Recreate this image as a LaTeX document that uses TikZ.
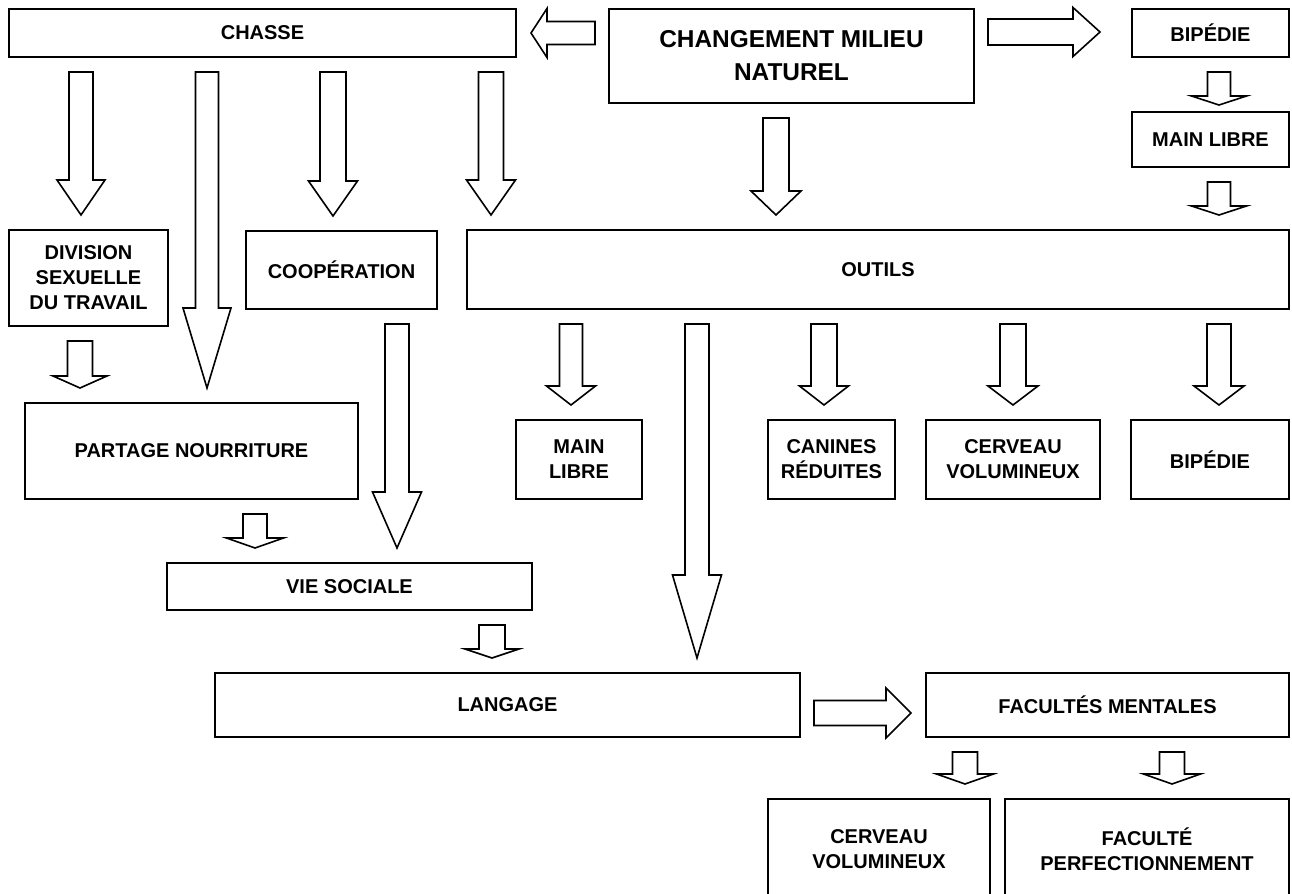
\documentclass[tikz,border=0pt]{standalone}
\usepackage{fontspec}
\setmainfont{Liberation Sans}
\usetikzlibrary{calc}

\tikzset{
  box/.style={draw=black, line width=0.9pt, fill=white, inner sep=0pt, outer sep=0pt,
    align=center, font=\bfseries\fontsize{10}{12.5}\selectfont},
  mainbox/.style={box, line width=1.4pt, font=\bfseries\fontsize{12.2}{16.5}\selectfont},
  hollow/.style={draw=black, line width=0.8pt, line join=miter}
}

% box from its corners (pixels)
\newcommand{\boxat}[7][box]{%
  \node[#1, minimum width={(#5-#3)*0.5pt}, minimum height={(#6-#4)*0.5pt}] (#2)
    at ({(#3+#5)/2},{(#4+#6)/2}) {#7};}

% [end gap] from, to, column, half shaft, half head, head length
\newcommand{\arrowdown}[7][15]{%
  \path let \p1=(#2.south), \p2=(#3.north), \p3=(#4,0) in
    coordinate (as) at (\x3,\y1) coordinate (ae) at (\x3,\y2);
  \draw[hollow] ($(as)+(-#5,15)$) -- ($(ae)+(-#5,-#1-#7)$) -- ++(#5-#6,0)
    -- ($(ae)+(0,-#1)$) -- ($(ae)+(#6,-#1-#7)$) -- ++(#5-#6,0)
    -- ($(as)+(#5,15)$) -- cycle;}

% [end gap] from, to, row, half shaft, half head, head length
\newcommand{\arrowright}[7][15]{%
  \path let \p1=(#2.east), \p2=(#3.west), \p3=(0,#4) in
    coordinate (as) at (\x1,\y3) coordinate (ae) at (\x2,\y3);
  \draw[hollow] ($(as)+(14,-#5)$) -- ($(ae)+(-#1-#7,-#5)$) -- ++(0,#5-#6)
    -- ($(ae)+(-#1,0)$) -- ($(ae)+(-#1-#7,#6)$) -- ++(0,#5-#6)
    -- ($(as)+(14,#5)$) -- cycle;}

\newcommand{\arrowleft}[7][15]{%
  \path let \p1=(#2.west), \p2=(#3.east), \p3=(0,#4) in
    coordinate (as) at (\x1,\y3) coordinate (ae) at (\x2,\y3);
  \draw[hollow] ($(as)+(-14,-#5)$) -- ($(ae)+(#1+#7,-#5)$) -- ++(0,#5-#6)
    -- ($(ae)+(#1,0)$) -- ($(ae)+(#1+#7,#6)$) -- ++(0,#5-#6)
    -- ($(as)+(-14,#5)$) -- cycle;}

\begin{document}
\begin{tikzpicture}[x=0.5pt, y=-0.5pt]
  \useasboundingbox[fill=white] (0,0) rectangle (1292,894);

  % boxes
  \boxat{chasse}{9}{9}{516}{57}{CHASSE}
  \boxat[mainbox]{milieu}{609}{9}{974}{103}{CHANGEMENT MILIEU\\NATUREL}
  \boxat{bipedieA}{1132}{9}{1289}{57}{BIPÉDIE}
  \boxat{mainA}{1132}{112}{1289}{167}{MAIN LIBRE}
  \boxat{division}{9}{230}{168}{326}{DIVISION\\SEXUELLE\\DU TRAVAIL}
  \boxat{coop}{246}{231}{437}{309}{COOPÉRATION}
  \boxat{outils}{467}{230}{1289}{309}{OUTILS}
  \boxat{partage}{25}{403}{358}{499}{PARTAGE NOURRITURE}
  \boxat{mainB}{516}{420}{642}{499}{MAIN\\LIBRE}
  \boxat{canines}{768}{420}{895}{499}{CANINES\\RÉDUITES}
  \boxat{cerveauA}{926}{420}{1100}{499}{CERVEAU\\VOLUMINEUX}
  \boxat{bipedieB}{1131}{420}{1289}{499}{BIPÉDIE}
  \boxat{vie}{167}{563}{532}{610}{VIE SOCIALE}
  \boxat{langage}{215}{673}{800}{737}{LANGAGE}
  \boxat{facultes}{926}{673}{1289}{737}{FACULTÉS MENTALES}
  \boxat{cerveauB}{768}{799}{990}{899}{CERVEAU\\VOLUMINEUX}
  \boxat{faculte}{1005}{799}{1289}{899}{FACULTÉ\\PERFECTIONNEMENT}

  % arrows
  \arrowleft{milieu}{chasse}{33}{11.5}{24.5}{16}
  \arrowright[32]{milieu}{bipedieA}{32}{13}{24.5}{27}
  \arrowright{langage}{facultes}{713}{12.5}{25}{25}

  \arrowdown{chasse}{division}{81}{12}{24}{35}
  \arrowdown{chasse}{partage}{207}{11.5}{24}{80}
  \arrowdown{chasse}{coop}{333}{13}{24.5}{35}
  \arrowdown{chasse}{outils}{491}{12.5}{24.5}{35}
  \arrowdown{milieu}{outils}{776}{13}{25}{24}
  \arrowdown[7]{bipedieA}{mainA}{1219}{11.5}{27.5}{9}
  \arrowdown{mainA}{outils}{1219}{11.5}{27.5}{9}
  \arrowdown{division}{partage}{80}{12.5}{27}{12}
  \arrowdown{outils}{mainB}{571}{11.5}{24.5}{19}
  \arrowdown{outils}{canines}{824}{13}{24.5}{19}
  \arrowdown{outils}{cerveauA}{1013}{13}{25}{19}
  \arrowdown{outils}{bipedieB}{1219}{12}{25}{19}
  \arrowdown{outils}{langage}{697}{12}{24.5}{83}
  \arrowdown{coop}{vie}{397}{12}{24.5}{56}
  \arrowdown{partage}{vie}{255}{12}{28.5}{10}
  \arrowdown{vie}{langage}{492}{13}{27}{9}
  \arrowdown{facultes}{cerveauB}{965}{12.5}{28.5}{10}
  \arrowdown{facultes}{faculte}{1172}{12.5}{28.5}{10}
\end{tikzpicture}
\end{document}
